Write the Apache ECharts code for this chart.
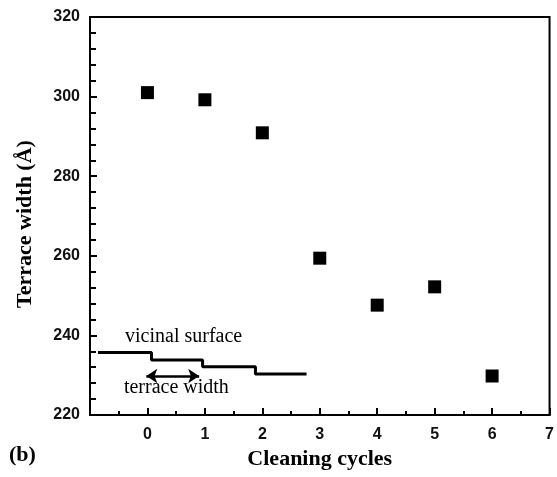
<!DOCTYPE html>
<html lang="en" style="height: 100%">
<head>
  <meta charset="utf-8" />
  <title>Terrace width vs cleaning cycles</title>
</head>
<body style="height: 100%; margin: 0; background: #fff">
  <div id="container" style="width: 557px; height: 477px"></div>

  <script type="text/javascript" src="https://fastly.jsdelivr.net/npm/echarts@6.0.0/dist/echarts.min.js"></script>
  <script type="text/javascript">
    // measured terrace widths after each cleaning cycle
    var cycles = [0, 1, 2, 3, 4, 5, 6];
    var terraceWidth = [301.0, 299.2, 290.9, 259.4, 247.6, 252.2, 229.8];

    // sketch of the vicinal surface (staircase) in data coordinates
    var stepX = [-0.86, 0.07, 0.96, 1.88, 2.77];
    var stepY = [235.7, 233.8, 232.1, 230.3, 230.3];

    // double arrow marking one terrace
    var arrowX = [-0.02, 0.9];
    var arrowY = 229.8;

    // annotation texts
    var noteText = ['vicinal surface', 'terrace width'];
    var noteX = [-0.39, -0.41];
    var noteY = [239.6, 226.8];

    var dom = document.getElementById('container');
    var myChart = echarts.init(dom, null, { renderer: 'canvas' });

    var axisFont = { fontFamily: 'Liberation Sans', fontSize: 16, fontWeight: 'bold', color: '#111' };
    var nameFont = { fontFamily: 'Liberation Serif', fontSize: 22, fontWeight: 'bold', color: '#000' };

    var option = {
      animation: false,
      backgroundColor: '#fff',
      grid: {
        left: 90, right: 6, top: 17, bottom: 62,
        show: true, borderColor: '#000', borderWidth: 2
      },
      xAxis: {
        type: 'value',
        min: -1, max: 7, interval: 1,
        name: 'Cleaning cycles',
        nameLocation: 'middle',
        nameGap: 31,
        nameTextStyle: nameFont,
        axisLine: { onZero: false, lineStyle: { color: '#000', width: 2 } },
        axisTick: { inside: true, length: 7, lineStyle: { color: '#000', width: 2 } },
        minorTick: { show: true, splitNumber: 2, length: 4, lineStyle: { color: '#000', width: 2 } },
        axisLabel: Object.assign({ margin: 12, showMinLabel: false }, axisFont),
        splitLine: { show: false }
      },
      yAxis: {
        type: 'value',
        min: 220, max: 320, interval: 20,
        name: 'Terrace width (Å)',
        nameLocation: 'middle',
        nameGap: 54,
        nameTextStyle: Object.assign({ padding: [0, 16, 0, 0] }, nameFont),
        axisLine: { onZero: false, lineStyle: { color: '#000', width: 2 } },
        axisTick: { inside: true, length: 7, lineStyle: { color: '#000', width: 2 } },
        minorTick: { show: true, splitNumber: 5, length: 6, lineStyle: { color: '#000', width: 2 } },
        axisLabel: Object.assign({ margin: 10 }, axisFont),
        splitLine: { show: false }
      },
      graphic: [{
        type: 'text', left: 9, top: 444,
        style: { text: '(b)', font: 'bold 22px "Liberation Serif"', fill: '#000' }
      }],
      series: [
        {
          type: 'scatter',
          symbol: 'rect',
          symbolSize: 13,
          itemStyle: { color: '#000', opacity: 1 },
          data: cycles.map(function (c, i) { return [c, terraceWidth[i]]; })
        },
        {
          type: 'line',
          step: 'end',
          showSymbol: false,
          silent: true,
          lineStyle: { color: '#000', width: 3 },
          data: stepX.map(function (x, i) { return [x, stepY[i]]; }),
          markLine: {
            silent: true,
            symbol: ['arrow', 'arrow'],
            symbolSize: [11, 11],
            label: { show: false },
            lineStyle: { color: '#000', width: 2.5, type: 'solid' },
            data: [[{ coord: [arrowX[0], arrowY] }, { coord: [arrowX[1], arrowY] }]]
          }
        },
        {
          type: 'scatter',
          symbolSize: 0,
          silent: true,
          itemStyle: { opacity: 1 },
          data: noteText.map(function (t, i) { return [noteX[i], noteY[i], t]; }),
          label: {
            show: true,
            position: [0, 0],
            align: 'left',
            verticalAlign: 'middle',
            fontFamily: 'Liberation Serif',
            fontSize: 20,
            color: '#000',
            opacity: 1,
            formatter: function (p) { return p.data[2]; }
          }
        }
      ]
    };

    myChart.setOption(option);
    window.addEventListener('resize', myChart.resize);
  </script>
</body>
</html>
